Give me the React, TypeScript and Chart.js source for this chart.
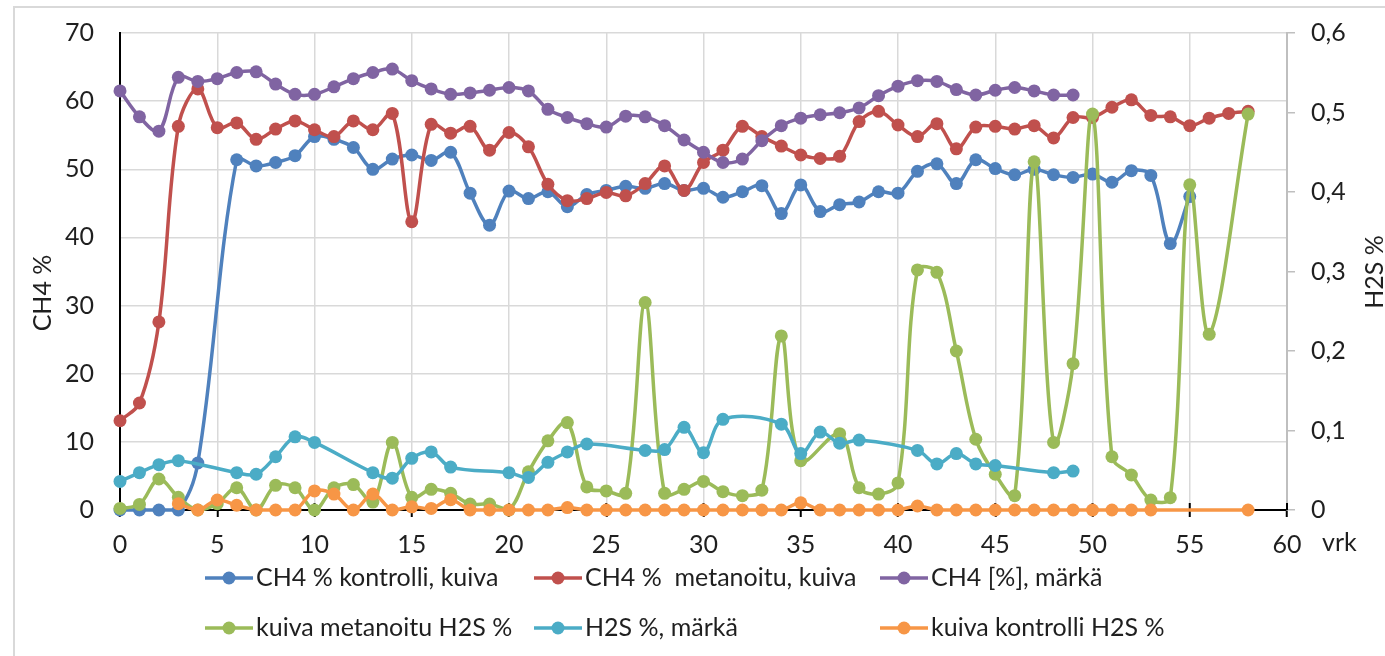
import { useEffect, useRef } from "react";
import { Chart, registerables } from "chart.js";

Chart.register(...registerables);

// ---------- data ----------
const seriesNames = [
  "CH4 % kontrolli, kuiva",
  "CH4 %  metanoitu, kuiva",
  "CH4 [%], märkä",
  "kuiva metanoitu H2S %",
  "H2S %, märkä",
  "kuiva kontrolli H2S %",
];

const kontrolliDays = [0, 1, 2, 3, 4, 6, 7, 8, 9, 10, 11, 12, 13, 14, 15, 16, 17, 18, 19, 20, 21, 22, 23, 24, 25, 26, 27, 28, 29, 30, 31, 32, 33, 34, 35, 36, 37, 38, 39, 40, 41, 42, 43, 44, 45, 46, 47, 48, 49, 50, 51, 52, 53, 54, 55];
const kontrolliCH4 = [0, 0, 0, 0, 6.9, 51.4, 50.5, 51.0, 52.0, 54.8, 54.4, 53.2, 50.0, 51.5, 52.1, 51.3, 52.5, 46.5, 41.8, 46.8, 45.7, 46.7, 44.5, 46.3, 46.9, 47.5, 47.2, 47.9, 46.9, 47.2, 45.9, 46.7, 47.6, 43.5, 47.7, 43.8, 44.8, 45.2, 46.7, 46.5, 49.7, 50.8, 47.9, 51.4, 50.1, 49.2, 50.0, 49.2, 48.8, 49.3, 48.1, 49.8, 49.1, 39.1, 46.0];

const metanoituDays = [0, 1, 2, 3, 4, 5, 6, 7, 8, 9, 10, 11, 12, 13, 14, 15, 16, 17, 18, 19, 20, 21, 22, 23, 24, 25, 26, 27, 28, 29, 30, 31, 32, 33, 34, 35, 36, 37, 38, 39, 40, 41, 42, 43, 44, 45, 46, 47, 48, 49, 50, 51, 52, 53, 54, 55, 56, 57, 58];
const metanoituCH4 = [13.1, 15.7, 27.6, 56.3, 61.8, 56.1, 56.8, 54.4, 55.9, 57.1, 55.8, 54.8, 57.1, 55.8, 58.2, 42.3, 56.6, 55.3, 56.3, 52.8, 55.4, 53.3, 47.8, 45.4, 45.7, 46.6, 46.1, 47.9, 50.5, 46.9, 51.0, 52.8, 56.3, 54.8, 53.4, 52.1, 51.6, 51.9, 57.0, 58.5, 56.5, 54.8, 56.7, 53.0, 56.2, 56.3, 55.9, 56.4, 54.6, 57.6, 57.6, 59.1, 60.2, 57.9, 57.7, 56.4, 57.5, 58.2, 58.5];

const markaDays = [0, 1, 2, 3, 4, 5, 6, 7, 8, 9, 10, 11, 12, 13, 14, 15, 16, 17, 18, 19, 20, 21, 22, 23, 24, 25, 26, 27, 28, 29, 30, 31, 32, 33, 34, 35, 36, 37, 38, 39, 40, 41, 42, 43, 44, 45, 46, 47, 48, 49];
const markaCH4 = [61.5, 57.7, 55.6, 63.5, 62.9, 63.3, 64.2, 64.3, 62.5, 61.0, 61.0, 62.1, 63.3, 64.2, 64.7, 63.0, 61.8, 61.0, 61.2, 61.6, 62.0, 61.5, 58.8, 57.6, 56.7, 56.2, 57.8, 57.7, 56.4, 54.3, 52.5, 51.0, 51.5, 54.2, 56.4, 57.5, 58.0, 58.3, 59.0, 60.8, 62.2, 63.0, 62.9, 61.7, 60.9, 61.6, 62.0, 61.5, 60.9, 60.9];

const metanoituH2SDays = [0, 1, 2, 3, 4, 5, 6, 7, 8, 9, 10, 11, 12, 13, 14, 15, 16, 17, 18, 19, 20, 21, 22, 23, 24, 25, 26, 27, 28, 29, 30, 31, 32, 33, 34, 35, 37, 38, 39, 40, 41, 42, 43, 44, 45, 46, 47, 48, 49, 50, 51, 52, 53, 54, 55, 56, 58];
const metanoituH2S = [0.002, 0.007, 0.039, 0.016, 0.0, 0.008, 0.028, 0.0, 0.031, 0.028, 0.0, 0.028, 0.032, 0.01, 0.085, 0.016, 0.026, 0.021, 0.0075, 0.0075, 0.0, 0.048, 0.087, 0.11, 0.029, 0.024, 0.021, 0.261, 0.021, 0.026, 0.036, 0.023, 0.018, 0.025, 0.219, 0.062, 0.096, 0.028, 0.02, 0.034, 0.302, 0.299, 0.2, 0.089, 0.045, 0.018, 0.438, 0.085, 0.184, 0.498, 0.067, 0.044, 0.0126, 0.0155, 0.409, 0.221, 0.498];

const markaH2SDays = [0, 1, 2, 3, 6, 7, 8, 9, 10, 13, 14, 15, 16, 17, 20, 21, 22, 23, 24, 27, 28, 29, 30, 31, 34, 35, 36, 37, 38, 41, 42, 43, 44, 45, 48, 49];
const markaH2S = [0.036, 0.047, 0.057, 0.062, 0.047, 0.045, 0.067, 0.092, 0.085, 0.047, 0.04, 0.065, 0.073, 0.054, 0.047, 0.041, 0.06, 0.073, 0.083, 0.075, 0.076, 0.104, 0.072, 0.114, 0.108, 0.071, 0.098, 0.084, 0.088, 0.075, 0.058, 0.071, 0.058, 0.056, 0.047, 0.049];

const kontrolliH2SDays = [3, 4, 5, 6, 7, 8, 9, 10, 11, 12, 13, 14, 15, 16, 17, 18, 19, 20, 21, 22, 23, 24, 25, 26, 27, 28, 29, 30, 31, 32, 33, 34, 35, 36, 37, 38, 39, 40, 41, 42, 43, 44, 45, 46, 47, 48, 49, 50, 51, 52, 53, 58];
const kontrolliH2S = [0.008, 0, 0.0126, 0.006, 0, 0, 0, 0.024, 0.02, 0, 0.02, 0, 0.004, 0.002, 0.013, 0, 0, 0, 0, 0, 0.003, 0, 0, 0, 0, 0, 0, 0, 0, 0, 0, 0, 0.009, 0, 0, 0, 0, 0, 0.005, 0, 0, 0, 0, 0, 0, 0, 0, 0, 0, 0, 0, 0];

const leftAxisTitle = "CH4 %";
const rightAxisTitle = "H2S %";
const xAxisTitle = "vrk";

// ---------- styling ----------
const COLORS = ["#4F81BD", "#C0504D", "#8064A2", "#9BBB59", "#4BACC6", "#F79646"];
const FONT = "Lato, 'Open Sans', sans-serif";
const FS = 25;
const TEXT = "#1f1f1f";
const GRID = "#d9d9d9";

const W = 1385;
const H = 656;

function pts(days: number[], vals: number[]) {
  return days.map((d, i) => ({ x: d, y: vals[i] }));
}

const decorPlugin = {
  id: "decor",
  beforeDraw(chart: any) {
    const ctx = chart.ctx;
    ctx.save();
    ctx.fillStyle = "#fff";
    ctx.fillRect(0, 0, chart.width, chart.height);
    ctx.strokeStyle = GRID;
    ctx.lineWidth = 2;
    ctx.beginPath();
    ctx.moveTo(14, H + 5);
    ctx.lineTo(14, 7);
    ctx.lineTo(W + 5, 7);
    ctx.stroke();
    ctx.restore();
  },
  beforeDatasetsDraw(chart: any) {
    const ctx = chart.ctx;
    const xs = chart.scales.x;
    const area = chart.chartArea;
    ctx.save();
    ctx.strokeStyle = "#000";
    ctx.lineWidth = 2;
    xs.ticks.forEach((t: any) => {
      const px = xs.getPixelForValue(t.value);
      if (Math.abs(px - area.left) < 1) return;
      ctx.beginPath();
      ctx.moveTo(px, area.bottom - 7);
      ctx.lineTo(px, area.bottom);
      ctx.stroke();
    });
    ctx.restore();
  },
  afterDraw(chart: any) {
    const ctx = chart.ctx;
    ctx.save();
    ctx.fillStyle = TEXT;
    ctx.font = `${FS}px ${FONT}`;
    ctx.textAlign = "center";
    ctx.textBaseline = "middle";
    // axis titles
    ctx.save();
    ctx.translate(43, 293);
    ctx.rotate(-Math.PI / 2);
    ctx.fillText(leftAxisTitle, 0, 0);
    ctx.restore();
    ctx.save();
    ctx.translate(1375, 272);
    ctx.rotate(-Math.PI / 2);
    ctx.fillText(rightAxisTitle, 0, 0);
    ctx.restore();
    ctx.textAlign = "left";
    ctx.fillText(xAxisTitle, 1322, 543);

    // legend
    const cols = [205, 534, 880];
    const rows = [578, 628];
    seriesNames.forEach((name, i) => {
      const mx = cols[i % 3];
      const my = rows[Math.floor(i / 3)];
      ctx.strokeStyle = COLORS[i];
      ctx.fillStyle = COLORS[i];
      ctx.lineWidth = 3.5;
      ctx.beginPath();
      ctx.moveTo(mx, my);
      ctx.lineTo(mx + 48, my);
      ctx.stroke();
      ctx.beginPath();
      ctx.arc(mx + 24, my, 6.5, 0, Math.PI * 2);
      ctx.fill();
      ctx.fillStyle = TEXT;
      ctx.fillText(name, mx + 51, my);
    });
    ctx.restore();
  },
};

export default function App() {
  const ref = useRef<HTMLCanvasElement | null>(null);

  useEffect(() => {
    document.body.style.margin = "0";
    const canvas = ref.current;
    if (!canvas) return;
    const mk = (i: number, data: any[], axis: string) => ({
      label: seriesNames[i],
      data,
      yAxisID: axis,
      borderColor: COLORS[i],
      backgroundColor: COLORS[i],
      pointBackgroundColor: COLORS[i],
      pointBorderColor: COLORS[i],
      borderWidth: 3.5,
      pointRadius: 6.5,
      pointBorderWidth: 0,
      tension: 0.35,
      clip: false as any,
      order: 5 - i,
    });
    const chart = new Chart(canvas, {
      type: "line",
      data: {
        datasets: [
          mk(0, pts(kontrolliDays, kontrolliCH4), "y"),
          mk(1, pts(metanoituDays, metanoituCH4), "y"),
          mk(2, pts(markaDays, markaCH4), "y"),
          mk(3, pts(metanoituH2SDays, metanoituH2S), "y1"),
          mk(4, pts(markaH2SDays, markaH2S), "y1"),
          mk(5, pts(kontrolliH2SDays, kontrolliH2S), "y1"),
        ],
      },
      options: {
        responsive: false,
        animation: false,
        events: [],
        layout: { padding: { top: 33, left: 0, right: 0, bottom: 0 } },
        plugins: {
          legend: { display: false },
          tooltip: { enabled: false },
        },
        scales: {
          x: {
            type: "linear",
            min: 0,
            max: 60,
            afterFit: (s: any) => {
              s.height = H - 510;
            },
            ticks: {
              stepSize: 5,
              color: TEXT,
              font: { family: FONT, size: FS },
              padding: 13,
              maxRotation: 0,
            },
            grid: {
              color: GRID,
              lineWidth: 1.5,
              drawTicks: true,
              tickLength: 7,
              tickColor: "#000",
              tickWidth: 2,
            },
            border: { color: "#000", width: 2 },
          },
          y: {
            position: "left",
            min: 0,
            max: 70,
            afterFit: (s: any) => {
              s.width = 120;
            },
            ticks: {
              stepSize: 10,
              color: TEXT,
              font: { family: FONT, size: FS },
              padding: 0,
            },
            grid: {
              color: GRID,
              lineWidth: 1.5,
              drawTicks: true,
              tickLength: 26,
              tickColor: "rgba(0,0,0,0)",
            },
            border: { color: "#000", width: 2 },
          },
          y1: {
            position: "right",
            min: 0,
            max: 0.6,
            afterFit: (s: any) => {
              s.width = W - 1287;
            },
            ticks: {
              stepSize: 0.1,
              color: TEXT,
              font: { family: FONT, size: FS },
              padding: 16,
              callback: (v: any) => (v === 0 ? "0" : Number(v).toFixed(1).replace(".", ",")),
            },
            grid: {
              drawOnChartArea: false,
              drawTicks: true,
              tickLength: 8,
              color: "#bfbfbf",
              lineWidth: 1.5,
            },
            border: { color: "#bfbfbf", width: 2 },
          },
        },
      },
      plugins: [decorPlugin],
    });
    return () => chart.destroy();
  }, []);

  return <canvas ref={ref} width={W} height={H} style={{ display: "block", width: W, height: H }} />;
}
